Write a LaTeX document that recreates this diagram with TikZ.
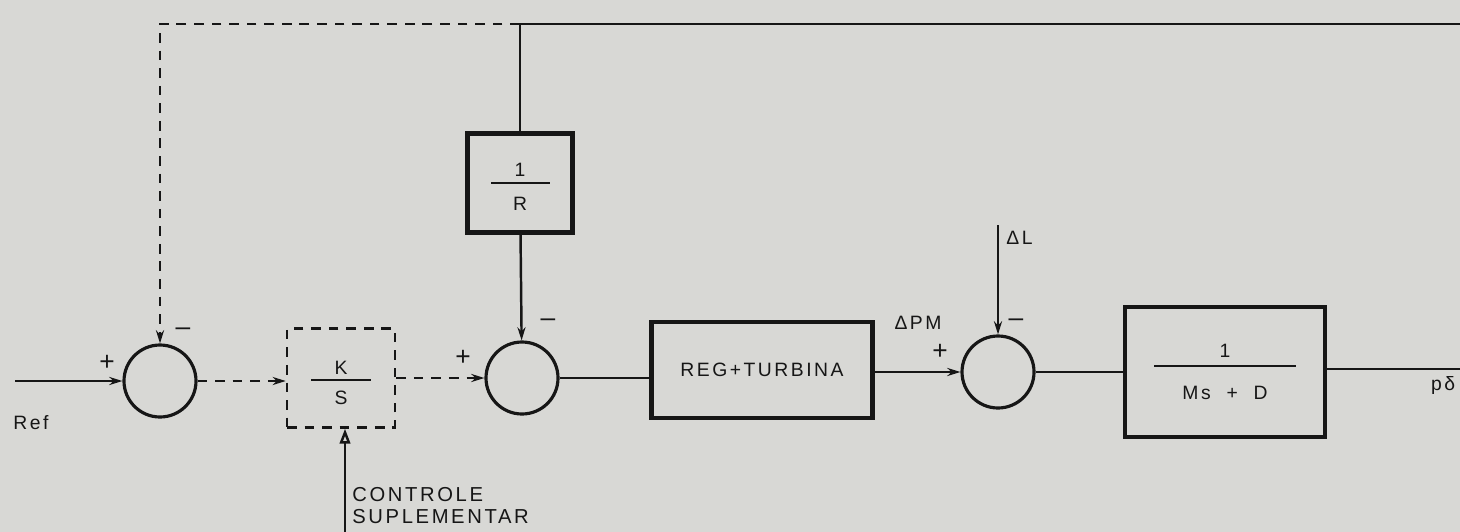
\documentclass[tikz,border=0pt]{standalone}
\usepackage{fontspec}
\setmainfont[LetterSpace=13]{Liberation Sans}
\usetikzlibrary{arrows.meta, positioning}
\definecolor{paper}{RGB}{216,216,213}
\definecolor{ink}{RGB}{22,22,22}

\begin{document}
\begin{tikzpicture}[x=0.2mm, y=-0.2mm,
        >={Stealth[length=7.5pt, width=4.6pt]},
        every node/.style={text=ink, font=\fontsize{11}{13}\selectfont},
        line/.style={draw=ink, line width=1.4pt},
        fb/.style={line, dash pattern=on 5.5pt off 4.5pt},
        sum/.style={draw=ink, circle, line width=1.8pt, minimum size=1.44cm, inner sep=0pt},
        block/.style={draw=ink, line width=2.8pt, inner sep=0pt},
        ctrlbox/.style={fb, inner sep=0pt, minimum width=2.16cm, minimum height=1.98cm},
        frac/.style={inner sep=0pt},
        bar/.style={draw=ink, line width=1.2pt},
        sign/.style={inner sep=0pt, font=\fontsize{15}{15}\selectfont}
    ]
        \fill[paper] (0,0) rectangle (1460,532);
        \useasboundingbox (0,0) rectangle (1460,532);

        % Summing junctions
        \node[sum] (sum1) at (160,381) {};
        \node[sum] (sum2) at (522,378) {};
        \node[sum] (sum3) at (998,372) {};

        % Blocks
        \node[ctrlbox] (integ) at (341,378) {};
        \node[block, minimum width=2.1cm, minimum height=1.98cm] (droop) at (520,183) {};
        \node[block, minimum width=4.42cm, minimum height=1.92cm] (regturb) at (762,370) {REG+TURBINA};
        \node[block, minimum width=4cm, minimum height=2.6cm] (plant) at (1225,372) {};

        % Fractions inside the blocks
        \draw[bar] (integ.center) ++(-30,2) coordinate (integbar) -- ++(60,0);
        \node[frac, above=3pt of integbar, xshift=30*0.2mm] (integnum) {K};
        \node[frac, below=6pt of integbar, xshift=30*0.2mm] (integden) {S};
        \draw[bar] (droop.center) ++(-29,0) -- ++(59,0);
        \node[frac, above=3.5pt of droop.center] (droopnum) {1};
        \node[frac, below=8pt of droop.center] (droopden) {R};
        \draw[bar] (plant.center) ++(-71,-6) -- ++(142,0);
        \coordinate (plantbar) at ([yshift=6*0.2mm]plant.center);
        \node[frac, above=4.5pt of plantbar] (plantnum) {1};
        \node[frac, below=11.5pt of plantbar] (plantden) {Ms\ \ + \ D};

        % Free ends
        \coordinate (refin) at (15,381);
        \coordinate (topright) at (1460,24);
        \coordinate (loadin) at (998,225);
        \coordinate (out) at (1460,369);
        \coordinate (suppin) at (345,532);
        \coordinate (topjoin) at (droop.north |- topright);
        \coordinate (topleft) at (sum1.north |- topright);

        % Forward path
        \draw[line, ->] (refin) -- (sum1);
        \draw[fb, ->] (sum1.east) -- (sum1.east -| integ.west);
        \draw[fb, ->] (integ.east) -- (sum2.west);
        \draw[line] (sum2.east) -- (sum2.east -| regturb.west);
        \draw[line, ->] (regturb.east |- sum3.west) -- (sum3.west);
        \draw[line] (sum3) -- (plant);
        \draw[line] (plant.east |- out) -- (out);

        % Feedback paths
        \draw[line] (topright) -- (topjoin) -- (droop);
        \draw[line, ->] (droop) -- (sum2);
        \draw[fb, ->] (topjoin) -- (topleft) -- (sum1);

        % Disturbance and supplementary control
        \draw[line, ->] (loadin) -- (sum3);
        \draw[line, -{Triangle[open, length=8.5pt, width=6pt]}] (suppin) -- (integ.south -| suppin);

        % Signs and labels
        \node[sign] (p1) at (107,363) {+};
        \node[sign] (m1) at (183,332) {–};
        \node[sign] (p2) at (463,358) {+};
        \node[sign] (m2) at (548,323) {–};
        \node[sign] (p3) at (940,352) {+};
        \node[sign] (m3) at (1016,323) {–};
        \node (reflbl) at (31,423) {Ref};
        \node (dpm) at (918,323) {ΔPM};
        \node[anchor=west, inner sep=0pt] (dl) at (1006,238) {ΔL};
        \node (outlbl) at (1443,385) {pδ};
        \node[anchor=west, align=left, inner sep=0pt, font=\fontsize{11.5}{12.5}\selectfont] (supp) at (352,506) {CONTROLE\\SUPLEMENTAR};

    \end{tikzpicture}
\end{document}
